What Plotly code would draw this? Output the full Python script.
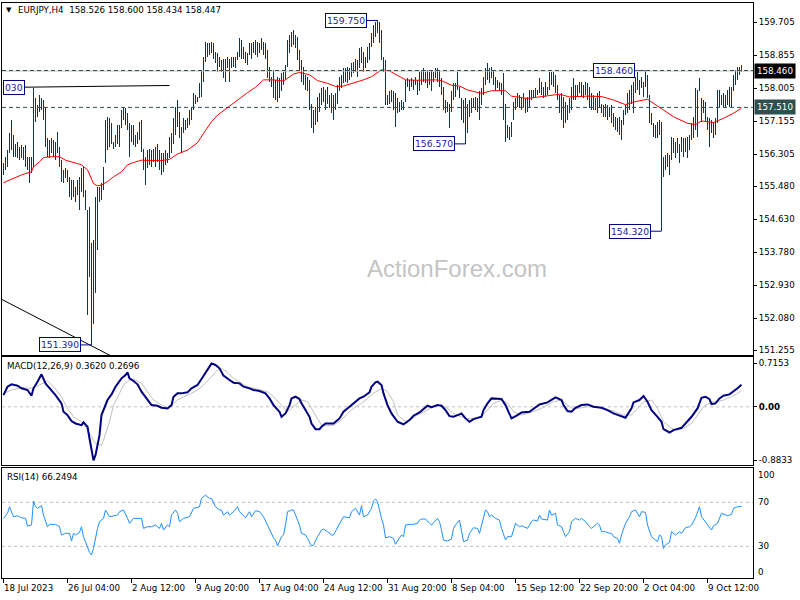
import plotly.graph_objects as go

# ---------------- data ----------------
HIGH = [
156.07,156.24,156.41,156.84,157.19,156.80,156.58,156.63,156.50,156.54,
156.50,156.54,156.24,156.24,156.24,158.00,157.74,157.57,157.83,157.74,
157.70,157.53,156.71,156.67,156.71,156.67,156.63,156.88,156.50,156.15,
155.90,155.94,155.90,155.72,155.64,155.64,155.47,155.64,155.72,155.94,
155.98,155.38,154.87,154.95,154.01,154.09,155.21,155.47,155.47,155.55,
155.98,157.19,157.27,157.23,157.10,156.63,156.80,157.06,157.06,157.44,
157.53,157.49,157.36,157.10,157.06,157.06,156.80,156.88,157.14,157.19,
156.45,156.24,156.41,156.45,156.41,156.45,156.50,156.58,156.41,156.33,
156.33,156.41,156.33,156.76,156.84,157.23,157.53,157.70,157.40,157.01,
157.23,157.19,157.23,157.44,157.53,157.87,157.83,157.79,158.13,158.47,
158.82,159.20,159.16,159.16,159.20,159.16,158.95,158.90,158.82,158.73,
158.77,158.77,158.82,158.77,158.82,158.82,158.82,158.95,159.29,159.25,
159.07,158.95,158.90,159.16,159.16,159.20,159.25,159.20,159.16,159.29,
159.20,159.16,158.99,158.56,158.30,158.47,158.22,158.30,158.26,158.39,
158.43,158.60,159.25,159.38,159.46,159.50,159.38,159.33,158.99,158.73,
158.56,158.35,158.30,158.22,157.61,157.44,157.53,157.79,157.87,158.00,
158.04,157.96,158.04,157.83,157.87,157.83,157.87,158.09,158.30,158.35,
158.52,158.52,158.56,158.52,158.65,158.69,158.77,158.73,159.03,159.07,
158.95,158.82,159.07,159.16,159.42,159.63,159.72,159.75,159.72,159.50,
158.82,158.73,157.83,157.92,157.96,157.92,157.87,157.74,157.66,157.70,
157.66,158.22,158.26,158.22,158.26,158.22,158.30,158.22,158.43,158.47,
158.52,158.43,158.47,158.43,158.47,158.43,158.52,158.52,158.47,158.26,
158.04,157.70,157.66,157.61,157.92,158.13,158.13,158.43,158.04,157.74,
157.70,157.74,157.61,157.70,157.74,157.74,157.79,157.74,157.92,158.00,
158.30,158.52,158.65,158.52,158.56,158.47,158.30,158.22,158.17,158.13,
158.39,157.61,157.06,157.01,157.14,157.66,157.74,157.87,157.83,157.79,
157.87,157.74,157.79,157.96,157.96,157.96,158.00,157.96,158.26,158.17,
158.04,158.17,158.04,158.43,158.43,158.43,158.35,158.09,157.83,157.87,
157.79,157.66,157.57,157.74,158.04,158.26,158.09,158.09,158.17,158.17,
158.09,158.17,158.13,158.04,157.87,157.83,157.74,157.87,157.92,157.61,
157.57,157.61,157.57,157.53,157.57,157.36,157.27,157.23,157.27,157.19,
157.44,157.57,157.87,157.96,158.09,158.17,158.30,158.43,158.22,158.30,
158.17,158.46,158.35,157.83,157.36,157.10,157.06,157.14,157.19,157.14,
156.24,156.28,156.33,156.28,156.76,156.71,156.63,156.71,156.58,156.76,
156.71,156.71,156.76,156.80,157.10,157.27,158.00,157.96,158.26,157.74,
157.70,157.66,157.27,157.23,157.19,157.14,157.23,157.96,157.96,157.83,
157.87,157.83,157.96,158.04,158.04,158.35,158.47,158.56,158.56,158.600]

LOW = [
155.77,155.90,155.98,156.33,156.41,156.24,156.24,156.20,156.15,156.20,
156.15,155.98,155.90,155.55,155.81,155.98,157.14,157.27,157.40,157.44,
157.19,156.50,156.24,156.20,156.33,156.24,156.15,156.33,155.98,155.60,
155.55,155.68,155.60,155.21,155.12,155.21,155.08,155.25,154.87,155.34,
155.21,154.87,152.16,153.15,151.39,151.94,152.72,153.83,155.08,155.12,
155.38,156.07,156.41,156.50,156.58,156.45,156.50,156.58,156.50,156.97,
157.19,157.06,156.93,156.24,156.63,156.54,156.50,156.58,156.67,156.37,
155.90,155.51,155.94,156.03,155.98,156.11,155.98,156.11,155.90,155.77,
155.85,156.03,156.07,156.20,156.33,156.58,156.80,157.01,156.71,156.33,
156.84,156.93,156.97,157.06,157.19,157.44,157.61,157.66,157.74,157.79,
158.17,158.69,158.82,158.86,158.90,158.77,158.65,158.43,158.56,158.43,
158.26,158.17,158.52,158.17,158.52,158.56,158.52,158.73,158.82,158.77,
158.77,158.65,158.60,158.86,158.77,158.90,158.86,158.82,158.90,158.99,
158.86,158.77,158.26,158.17,158.04,157.74,157.70,157.66,157.74,157.92,
158.09,158.22,158.56,158.90,159.07,159.12,159.03,158.73,158.47,158.17,
158.09,157.96,157.92,157.44,156.97,156.84,157.06,157.14,157.40,157.57,
157.66,157.44,157.61,157.49,157.36,157.19,157.44,157.61,157.92,158.00,
158.13,158.17,158.13,158.22,158.30,158.39,158.43,158.30,158.52,158.65,
158.43,158.52,158.65,158.73,159.07,159.16,159.33,159.42,159.16,158.73,
158.43,157.57,157.57,157.61,157.66,157.44,157.01,157.36,157.40,157.44,
157.44,157.66,158.04,157.92,158.04,157.96,158.09,157.83,157.92,158.09,
158.17,158.13,158.00,158.09,157.92,158.17,158.26,158.17,158.04,157.83,
157.44,157.36,157.40,156.97,157.40,157.70,157.79,157.96,157.74,157.19,
157.10,156.57,156.84,157.27,157.36,157.53,157.44,157.40,157.19,157.57,
157.83,158.09,158.22,158.13,158.26,158.09,157.92,158.00,157.92,157.83,
157.19,156.63,156.71,156.67,156.76,157.19,157.44,157.53,157.49,157.44,
157.53,157.36,157.40,157.53,157.70,157.74,157.79,157.83,157.87,157.83,
157.74,157.79,157.83,157.96,158.09,158.04,157.87,157.70,157.36,157.19,
156.97,157.10,157.19,157.36,157.44,157.70,157.70,157.79,157.87,157.79,
157.74,157.83,157.70,157.49,157.44,157.44,157.44,157.36,157.49,157.36,
157.27,157.27,157.19,157.27,157.10,157.01,156.93,156.88,156.80,156.67,
157.06,157.31,157.36,157.44,157.61,157.36,157.87,157.96,157.83,158.00,
157.79,158.04,157.74,157.10,157.06,156.76,156.71,156.71,156.80,154.32,
155.72,155.90,155.98,155.77,156.15,156.33,156.20,156.33,156.07,156.37,
156.24,156.37,156.20,156.41,156.67,156.71,156.93,156.76,157.92,157.14,
157.36,157.14,156.93,156.50,156.84,156.71,156.80,157.10,157.53,157.57,
157.53,157.49,157.57,157.53,157.53,157.92,158.09,158.22,158.35,158.434]

MA_IDX = [0,5,9,14,15,18,20,24,28,31,35,39,42,44,45,47,49,52,55,59,62,65,69,74,79,83,87,92,97,100,
          104,107,112,117,122,126,130,135,140,145,148,153,157,162,166,170,175,180,184,189,193,197,201,
          207,216,219,224,228,232,239,244,251,254,262,268,274,278,283,292,299,305,311,315,322,329,335,
          342,346,349,355,360,365,369]
MA_VAL = [155.57,155.68,155.77,155.85,155.98,156.11,156.22,156.24,156.24,156.15,156.09,156.03,155.90,
          155.68,155.55,155.49,155.51,155.60,155.72,155.85,156.03,156.09,156.15,156.14,156.14,156.17,
          156.31,156.41,156.60,156.84,157.14,157.31,157.51,157.70,157.89,158.03,158.22,158.22,158.19,
          158.37,158.41,158.35,158.20,158.13,158.05,158.06,158.13,158.22,158.30,158.48,158.45,158.34,
          158.22,158.21,158.22,158.20,158.08,158.06,157.96,157.87,157.94,157.94,157.80,157.74,157.78,
          157.82,157.85,157.78,157.80,157.79,157.70,157.58,157.65,157.72,157.49,157.27,157.10,157.07,
          157.16,157.12,157.23,157.36,157.49]

MACD_IDX = [0,2,4,7,9,12,14,15,17,19,21,24,26,29,30,32,34,36,39,40,42,43,44,45,46,48,49,52,54,56,59,
            61,62,63,65,67,69,72,74,77,79,82,84,85,87,89,92,94,97,99,101,103,104,106,108,110,113,115,
            118,120,123,125,128,131,133,135,138,139,141,143,144,146,148,149,151,153,154,156,158,159,161,
            164,165,168,170,173,175,178,180,183,184,186,187,189,190,192,194,197,199,200,203,205,208,210,
            212,214,217,219,221,223,225,228,229,231,233,235,239,240,242,244,247,249,251,253,254,257,259,
            263,265,268,272,274,276,279,280,282,284,286,289,292,295,299,302,305,309,311,314,315,318,320,
            322,324,327,329,330,333,335,339,341,344,347,349,351,353,354,356,358,360,363,365,367,369]
MACD_VAL = [0.193,0.331,0.370,0.348,0.304,0.276,0.182,0.304,0.414,0.535,0.386,0.276,0.193,0.056,-0.082,
            -0.137,-0.236,-0.275,-0.302,-0.258,-0.330,-0.523,-0.743,-0.8833,-0.798,-0.468,-0.137,0.111,
            0.204,0.331,0.469,0.524,0.568,0.469,0.425,0.370,0.249,0.111,0.028,0.017,-0.016,-0.027,0.028,
            0.166,0.221,0.221,0.238,0.304,0.359,0.458,0.551,0.662,0.7153,0.689,0.634,0.513,0.441,0.397,
            0.386,0.331,0.304,0.276,0.260,0.221,0.138,0.028,-0.082,-0.165,-0.110,0.028,0.138,0.166,0.127,
            0.056,-0.055,-0.165,-0.275,-0.369,-0.369,-0.330,-0.275,-0.275,-0.275,-0.192,-0.082,0.001,
            0.056,0.138,0.166,0.238,0.331,0.403,0.414,0.359,0.221,0.028,-0.110,-0.247,-0.275,-0.291,
            -0.220,-0.148,-0.093,-0.038,0.017,-0.005,0.028,0.017,-0.055,-0.154,-0.165,-0.126,-0.110,
            -0.192,-0.247,-0.203,-0.165,-0.055,0.056,0.138,0.138,0.127,0.028,-0.137,-0.192,-0.137,-0.093,
            -0.082,-0.038,0.039,0.072,0.111,0.155,0.111,0.028,-0.071,-0.082,-0.016,0.028,0.039,0.001,
            -0.016,-0.055,-0.110,-0.165,-0.181,-0.027,0.072,0.111,0.177,0.083,-0.055,-0.165,-0.247,
            -0.369,-0.424,-0.385,-0.347,-0.275,-0.165,-0.027,0.149,0.166,0.127,0.045,0.056,0.138,0.182,
            0.204,0.249,0.304,0.3620]

SIG_IDX = [0,4,9,14,18,22,25,29,32,35,39,41,44,46,49,50,53,55,58,60,63,65,69,72,75,79,82,84,87,90,94,
           97,100,104,107,109,112,115,119,122,125,129,132,135,139,142,144,147,149,152,154,157,159,162,
           165,169,172,175,179,182,185,189,192,195,197,200,202,207,212,215,219,222,225,229,232,235,239,
           242,245,249,252,255,259,262,265,269,272,275,279,282,285,289,292,299,305,310,314,317,320,324,
           327,330,334,337,340,344,347,350,354,357,360,364,367,369]
SIG_VAL = [0.221,0.276,0.315,0.304,0.359,0.425,0.331,0.166,-0.027,-0.165,-0.247,-0.330,-0.495,-0.606,
           -0.633,-0.550,-0.247,0.028,0.221,0.359,0.441,0.458,0.386,0.249,0.111,0.028,-0.016,0.028,
           0.111,0.166,0.221,0.276,0.359,0.496,0.607,0.634,0.568,0.469,0.386,0.331,0.304,0.276,0.249,
           0.166,0.028,-0.082,-0.027,0.056,0.111,0.083,-0.027,-0.192,-0.302,-0.313,-0.302,-0.220,
           -0.110,-0.027,0.056,0.138,0.221,0.304,0.249,0.083,-0.137,-0.220,-0.247,-0.137,-0.055,0.001,
           0.028,-0.027,-0.110,-0.165,-0.192,-0.192,-0.165,-0.055,0.056,0.111,0.056,-0.082,-0.137,
           -0.110,-0.071,-0.027,0.028,0.083,0.111,0.028,-0.038,-0.016,0.001,-0.016,-0.071,-0.137,
           -0.137,-0.027,0.083,0.111,-0.027,-0.247,-0.358,-0.385,-0.358,-0.275,-0.137,0.001,0.083,
           0.083,0.111,0.166,0.221,0.2696]

RSI_IDX = [0,2,3,5,7,9,11,12,14,15,16,17,19,20,22,23,26,28,29,31,33,34,35,36,38,39,40,41,42,43,44,45,
           47,48,50,51,53,55,57,58,60,62,63,65,67,69,70,72,74,76,78,79,80,82,83,84,86,87,88,90,93,95,
           98,99,101,103,104,106,108,109,110,112,113,115,117,118,120,121,123,124,126,128,130,132,134,
           135,136,137,139,140,141,142,144,145,146,148,149,151,152,153,154,155,157,159,160,162,164,165,
           167,169,170,173,174,176,178,179,180,182,184,185,186,187,189,190,191,193,195,196,198,199,200,
           201,203,205,207,208,209,211,213,214,217,218,219,220,222,224,225,226,228,229,230,232,233,235,
           237,238,239,241,242,243,244,246,248,249,251,252,254,256,258,259,262,264,265,267,268,269,272,
           273,274,276,277,279,280,281,283,284,286,288,289,291,293,294,297,298,299,301,303,304,305,307,
           308,309,311,313,314,316,318,319,321,322,324,325,327,328,329,330,331,333,334,336,338,339,341,
           343,344,346,348,349,351,353,354,355,357,359,360,362,364,365,367,369]
RSI_VAL = [55.4,60.0,66.0,56.9,57.8,56.0,55.4,48.4,49.4,71.2,66.0,64.5,66.9,58.4,47.8,50.0,50.0,47.8,
           40.3,41.8,41.8,34.8,41.8,40.3,42.7,47.8,38.8,34.2,29.7,24.5,22.1,28.1,46.3,52.4,55.4,63.0,
           56.9,57.8,58.4,61.5,63.0,55.4,50.9,55.4,55.4,55.4,46.3,47.8,47.8,49.4,46.3,50.9,44.8,49.4,
           47.8,58.4,63.0,60.0,52.4,55.4,56.9,64.5,66.0,73.6,76.6,73.6,73.6,66.0,63.0,63.0,58.4,61.5,
           58.4,61.5,66.0,61.5,57.8,56.0,61.5,56.9,62.4,61.5,56.9,49.4,41.8,37.8,35.7,30.3,38.8,40.3,
           49.4,61.5,63.0,63.0,58.4,49.4,41.8,40.3,37.2,34.2,30.3,31.2,38.8,44.8,45.7,43.3,40.3,40.3,
           47.8,53.9,56.9,56.0,61.5,64.5,58.4,66.9,56.9,58.4,64.5,71.2,73.0,70.6,55.4,49.4,37.8,38.8,
           37.2,31.8,37.8,40.3,38.8,49.4,50.0,50.0,50.9,53.9,54.8,54.8,50.9,49.4,55.4,52.4,44.8,35.7,
           34.8,36.6,46.3,49.4,53.9,44.8,34.2,35.7,41.8,46.9,46.3,41.8,49.4,63.0,61.5,56.9,58.4,55.4,
           53.9,46.3,35.7,38.8,38.8,50.9,47.8,48.7,46.3,52.4,53.9,53.0,58.4,54.8,53.9,63.0,58.4,60.0,
           49.4,47.8,43.3,38.8,43.3,52.4,55.4,53.9,55.4,52.4,47.8,46.3,50.9,49.4,43.3,43.3,41.8,41.8,
           38.8,37.2,32.7,40.3,50.9,56.9,61.5,63.0,56.9,61.5,60.9,49.4,38.8,37.2,34.2,40.3,38.8,28.1,
           31.2,33.6,43.3,40.3,43.3,41.8,46.9,47.8,49.4,56.0,66.0,56.9,52.4,47.8,44.8,48.7,50.9,60.0,
           59.1,57.8,59.1,64.5,66.0,66.2494]

X_TICK_IDX = [0, 32, 64, 96, 128, 160, 192, 224, 256, 288, 320, 352]
X_TICK_TEXT = ["18 Jul 2023", "26 Jul 04:00", "2 Aug 12:00", "9 Aug 20:00", "17 Aug 04:00",
               "24 Aug 12:00", "31 Aug 20:00", "8 Sep 04:00", "15 Sep 12:00", "22 Sep 20:00",
               "2 Oct 04:00", "9 Oct 12:00"]
PRICE_TICKS = [159.705, 158.855, 158.005, 157.155, 156.305, 155.480, 154.630, 153.780,
               152.930, 152.080, 151.255]
MACD_TICKS = [0.7153, 0.0, -0.8833]
MACD_TICK_TEXT = ["0.7153", "<b>0.00</b>", "-0.8833"]
RSI_LEVELS = [30, 70]

# price labels (text, bar index, price)
PRICE_LABELS = [("159.750", 187, 159.75), ("156.570", 231, 156.57), ("158.460", 321, 158.46),
                ("154.320", 329, 154.32), ("151.390", 44, 151.39)]
LEVEL_HI = 158.46
LEVEL_LO = 157.51
BID = 158.447
TREND_H = ([9.75, 83], [158.03, 158.075])
TREND_D = ([-0.75, 60], [152.56, 150.94])

# ---------------- styling ----------------
BAR_COLOR = "#0f3552"
FONT = "DejaVu Sans"
FS = 8.7
XR = [-0.75, 374.75]

fig = go.Figure()
idx = list(range(len(HIGH)))
fig.add_trace(go.Bar(x=idx, y=[h - l for h, l in zip(HIGH, LOW)], base=LOW, width=0.5,
                     marker=dict(color=BAR_COLOR, line=dict(width=0)),
                     xaxis="x", yaxis="y", hoverinfo="skip"))
fig.add_trace(go.Scatter(x=MA_IDX, y=MA_VAL, mode="lines", line=dict(color="#ff0000", width=1),
                         xaxis="x", yaxis="y", hoverinfo="skip"))
fig.add_trace(go.Scatter(x=TREND_H[0], y=TREND_H[1], mode="lines", line=dict(color="black", width=1),
                         xaxis="x", yaxis="y", hoverinfo="skip"))
fig.add_trace(go.Scatter(x=TREND_D[0], y=TREND_D[1], mode="lines", line=dict(color="black", width=1),
                         xaxis="x", yaxis="y", hoverinfo="skip"))

annotations = []
for txt, bi, pr in PRICE_LABELS:
    fig.add_trace(go.Scatter(x=[bi - 5.25, bi], y=[pr, pr], mode="lines",
                             line=dict(color="#000080", width=1), xaxis="x", yaxis="y",
                             hoverinfo="skip"))
    annotations.append(dict(x=bi - 5.25, y=pr, xref="x", yref="y", text=txt, showarrow=False,
                            xanchor="right", yanchor="middle",
                            font=dict(family=FONT, size=FS + 0.5, color="#1a1aa8"),
                            bgcolor="white", bordercolor="#000080", borderwidth=1, borderpad=1))
annotations.append(dict(x=0.0015, y=158.03, xref="paper", yref="y", text="030", showarrow=False,
                        xanchor="left", yanchor="middle",
                        font=dict(family=FONT, size=FS + 0.5, color="#1a1aa8"),
                        bgcolor="white", bordercolor="#000080", borderwidth=1, borderpad=1))

fig.add_trace(go.Scatter(x=SIG_IDX, y=SIG_VAL, mode="lines", line=dict(color="#c0c0c0", width=1),
                         xaxis="x2", yaxis="y2", hoverinfo="skip"))
fig.add_trace(go.Scatter(x=MACD_IDX, y=MACD_VAL, mode="lines", line=dict(color="#000080", width=2),
                         xaxis="x2", yaxis="y2", hoverinfo="skip"))
fig.add_trace(go.Scatter(x=RSI_IDX, y=RSI_VAL, mode="lines", line=dict(color="#1e90ff", width=1),
                         xaxis="x3", yaxis="y3", hoverinfo="skip"))

shapes = [
    dict(type="line", xref="x", yref="y", x0=XR[0], x1=XR[1], y0=BID, y1=BID,
         line=dict(color="#c0c0c0", width=1)),
    dict(type="line", xref="x", yref="y", x0=XR[0], x1=XR[1], y0=LEVEL_HI, y1=LEVEL_HI,
         line=dict(color="#2f4f4f", width=1, dash="4px,3px")),
    dict(type="line", xref="x", yref="y", x0=XR[0], x1=XR[1], y0=LEVEL_LO, y1=LEVEL_LO,
         line=dict(color="#2f4f4f", width=1, dash="4px,3px")),
    dict(type="line", xref="x2", yref="y2", x0=XR[0], x1=XR[1], y0=0, y1=0, layer="below",
         line=dict(color="#c0c0c0", width=1, dash="3px,3px")),
]
for lv in RSI_LEVELS:
    shapes.append(dict(type="line", xref="x3", yref="y3", x0=XR[0], x1=XR[1], y0=lv, y1=lv,
                       layer="below", line=dict(color="#c0c0c0", width=1, dash="3px,3px")))

tf = dict(family=FONT, size=FS, color="black")
# highlighted price boxes on the right axis
annotations.append(dict(x=1, y=LEVEL_HI, xref="paper", yref="y", text=f"{LEVEL_HI:.3f}", showarrow=False,
                        xanchor="left", yanchor="middle", xshift=1, bgcolor="#000000",
                        font=dict(family=FONT, size=FS, color="white"), borderpad=2))
annotations.append(dict(x=1, y=LEVEL_LO, xref="paper", yref="y", text=f"{LEVEL_LO:.3f}", showarrow=False,
                        xanchor="left", yanchor="middle", xshift=1, bgcolor="#2f4f4f",
                        font=dict(family=FONT, size=FS, color="white"), borderpad=2))
# RSI labels
for txt, yv in [("100", 94.8), ("70", 70), ("30", 30), ("0", 6.6)]:
    annotations.append(dict(x=1, y=yv, xref="paper", yref="y3", text=txt, showarrow=False,
                            xanchor="left", yanchor="middle", xshift=3, font=tf))
# x labels
for i, t in zip(X_TICK_IDX, X_TICK_TEXT):
    annotations.append(dict(x=i, y=-0.0174, xref="x3", yref="paper", text=t, showarrow=False,
                            xanchor="left", yanchor="middle", xshift=-2, font=tf))
# panel titles
annotations.append(dict(x=(9 - 2) / 751, y=0.9878, xref="paper", yref="paper", text="▼", showarrow=False,
                        xanchor="center", yanchor="middle", font=dict(family=FONT, size=7, color="black")))
annotations.append(dict(x=(18 - 2) / 751, y=0.9878, xref="paper", yref="paper",
                        text="EURJPY,H4  158.526 158.600 158.434 158.447", showarrow=False,
                        xanchor="left", yanchor="middle", xshift=-2, font=tf))
annotations.append(dict(x=(7 - 2) / 751, y=0.3687, xref="paper", yref="paper",
                        text="MACD(12,26,9) 0.3620 0.2696", showarrow=False,
                        xanchor="left", yanchor="middle", xshift=-2, font=tf))
annotations.append(dict(x=(7 - 2) / 751, y=0.1757, xref="paper", yref="paper",
                        text="RSI(14) 66.2494", showarrow=False,
                        xanchor="left", yanchor="middle", xshift=-2, font=tf))
annotations.append(dict(x=(457 - 2) / 751, y=(578 - 268) / 575, xref="paper", yref="paper",
                        text="ActionForex.com", showarrow=False, xanchor="center", yanchor="middle",
                        font=dict(family="Liberation Sans", size=24, color="#c4c4c4")))

axis_line = dict(showgrid=False, zeroline=False, showline=True, mirror=True,
                 linecolor="black", linewidth=1)
fig.update_layout(
    width=800, height=600, margin=dict(l=2, r=47, t=3, b=22),
    paper_bgcolor="white", plot_bgcolor="white", showlegend=False, bargap=0,
    font=tf,
    xaxis=dict(domain=[0, 1], range=XR, anchor="y", showticklabels=False, ticks="", **axis_line),
    xaxis2=dict(domain=[0, 1], range=XR, anchor="y2", showticklabels=False, ticks="", **axis_line),
    xaxis3=dict(domain=[0, 1], range=XR, anchor="y3", showticklabels=False, ticks="outside",
                tickvals=X_TICK_IDX, ticklen=4, tickcolor="black", **axis_line),
    yaxis=dict(domain=[0.3878, 1.0], range=[151.13, 160.20], side="right", anchor="x",
               tickvals=PRICE_TICKS, ticktext=[f"{v:.3f}" for v in PRICE_TICKS],
               ticks="outside", ticklen=3, tickcolor="black", tickfont=tf, **axis_line),
    yaxis2=dict(domain=[0.1965, 0.3843], range=[-0.96, 0.82], side="right", anchor="x2",
                tickvals=MACD_TICKS, ticktext=MACD_TICK_TEXT,
                ticks="outside", ticklen=3, tickcolor="black", tickfont=tf, **axis_line),
    yaxis3=dict(domain=[0, 0.1913], range=[1.2, 101.2], side="right", anchor="x3",
                showticklabels=False, ticks="", **axis_line),
    shapes=shapes, annotations=annotations,
)

fig.write_html("out.html", config={"displayModeBar": False},
               post_script="document.body.style.margin='0';document.body.style.overflow='hidden';")
